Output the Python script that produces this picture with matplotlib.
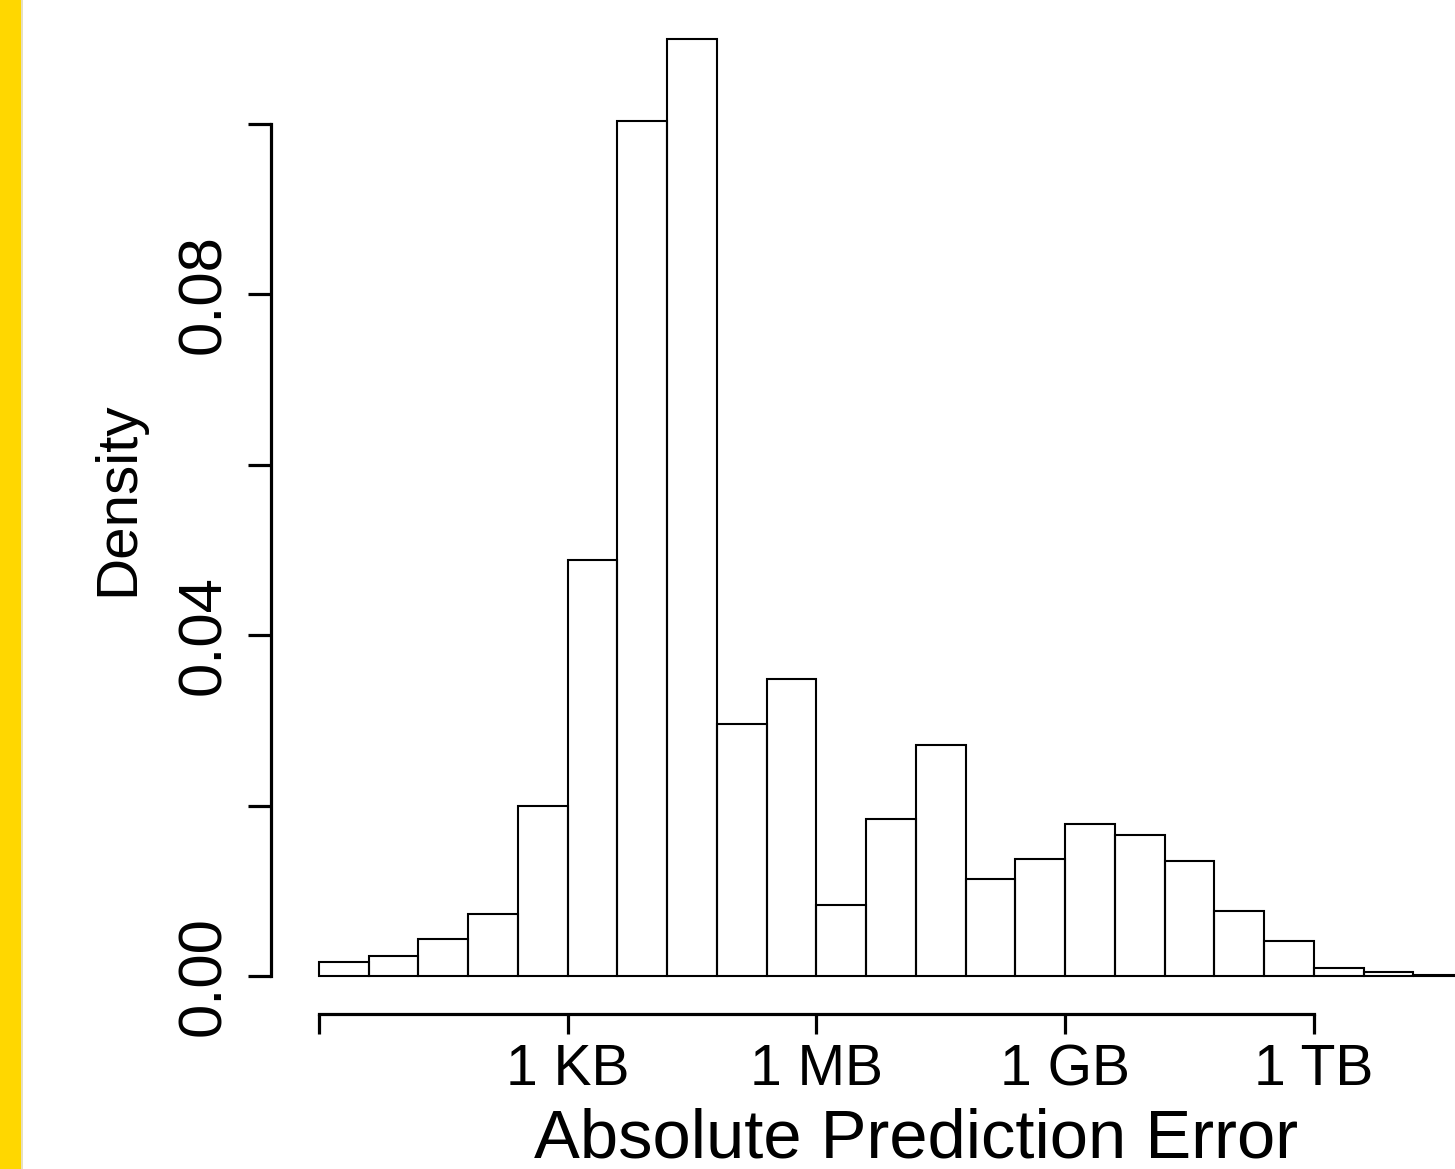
import matplotlib
matplotlib.use("Agg")
import matplotlib.pyplot as plt
from matplotlib.patches import Rectangle
import numpy as np

# ---- data (log2 of absolute prediction error, bins of width 2) ----
bin_edges = [0, 2, 4, 6, 8, 10, 12, 14, 16, 18, 20, 22, 24, 26, 28, 30,
             32, 34, 36, 38, 40, 42, 44, 46]
densities = [0.00168, 0.00238, 0.00434, 0.00727, 0.0200, 0.0488, 0.1003,
             0.1099, 0.02956, 0.03480, 0.00833, 0.01842, 0.02713, 0.01134,
             0.01369, 0.01787, 0.01658, 0.01353, 0.00766, 0.00414, 0.00097,
             0.00043, 0.00012]
x_ticks = [0, 10, 20, 30, 40]
x_tick_labels = ["", "1 KB", "1 MB", "1 GB", "1 TB"]
y_ticks = [0.00, 0.02, 0.04, 0.06, 0.08, 0.10]
y_tick_labels = ["0.00", "", "0.04", "", "0.08", ""]
x_label = "Absolute Prediction Error"
y_label = "Density"

W, H = 1455, 1169
DPI = 100
fig = plt.figure(figsize=(W / DPI, H / DPI), dpi=DPI)
fig.patch.set_facecolor("white")

FONT = "Liberation Sans"

# yellow strip on the left
fig.patches.append(Rectangle((0, 0), 21 / W, 1, transform=fig.transFigure,
                             facecolor="#FFD700", edgecolor="none", zorder=0))
fig.patches.append(Rectangle((21 / W, 0), 2 / W, 1, transform=fig.transFigure,
                             facecolor="#e6e0c0", edgecolor="none", zorder=0))

# axes geometry (pixels)
xmin, xmax = -1.92, 49.92
px_per_x = 24.875
ax_left_px = 271
ax_w_px = (xmax - xmin) * px_per_x
y0_px = 976
px_per_y = 8525
ax_bottom_px = 1013.5
ax_top_px = 0
ymin = -(ax_bottom_px - y0_px) / px_per_y
ymax = (y0_px - ax_top_px) / px_per_y

ax = fig.add_axes([ax_left_px / W, 1 - ax_bottom_px / H,
                   ax_w_px / W, (ax_bottom_px - ax_top_px) / H])
ax.set_xlim(xmin, xmax)
ax.set_ylim(ymin, ymax)
ax.set_facecolor("none")

ax.bar(bin_edges[:-1], densities, width=np.diff(bin_edges), align="edge",
       fill=False, edgecolor="black", linewidth=1.5, clip_on=False)

for s in ["top", "right"]:
    ax.spines[s].set_visible(False)
ax.spines["left"].set_bounds(0, 0.10)
ax.spines["bottom"].set_bounds(0, 40)
ax.spines["left"].set_linewidth(2.3)
ax.spines["bottom"].set_linewidth(2.3)

ax.set_xticks(x_ticks, x_tick_labels, fontfamily=FONT, fontsize=41)
ax.set_yticks(y_ticks, y_tick_labels, fontfamily=FONT, fontsize=44.5)
ax.tick_params(axis="x", direction="out", length=14.4, width=2.3, pad=37.4)
ax.tick_params(axis="y", direction="out", length=16.3, width=2.3, pad=20.2)
for t in ax.get_xticklabels():
    t.set_verticalalignment("baseline")
for t in ax.get_yticklabels():
    t.set_rotation(90)
    t.set_rotation_mode("anchor")
    t.set_horizontalalignment("center")
    t.set_verticalalignment("baseline")

ax.set_xlabel(x_label, fontfamily=FONT, fontsize=49.5, va="baseline")
ax.xaxis.set_label_coords((916 - ax_left_px) / ax_w_px,
                          (ax_bottom_px - 1157) / ax_bottom_px)
ax.set_ylabel(y_label, fontfamily=FONT, fontsize=42, va="baseline",
              rotation=90, rotation_mode="anchor", ha="center")
ax.yaxis.set_label_coords((133 - ax_left_px) / ax_w_px,
                          (ax_bottom_px - 499) / ax_bottom_px)

fig.savefig("out.png", dpi=DPI)
